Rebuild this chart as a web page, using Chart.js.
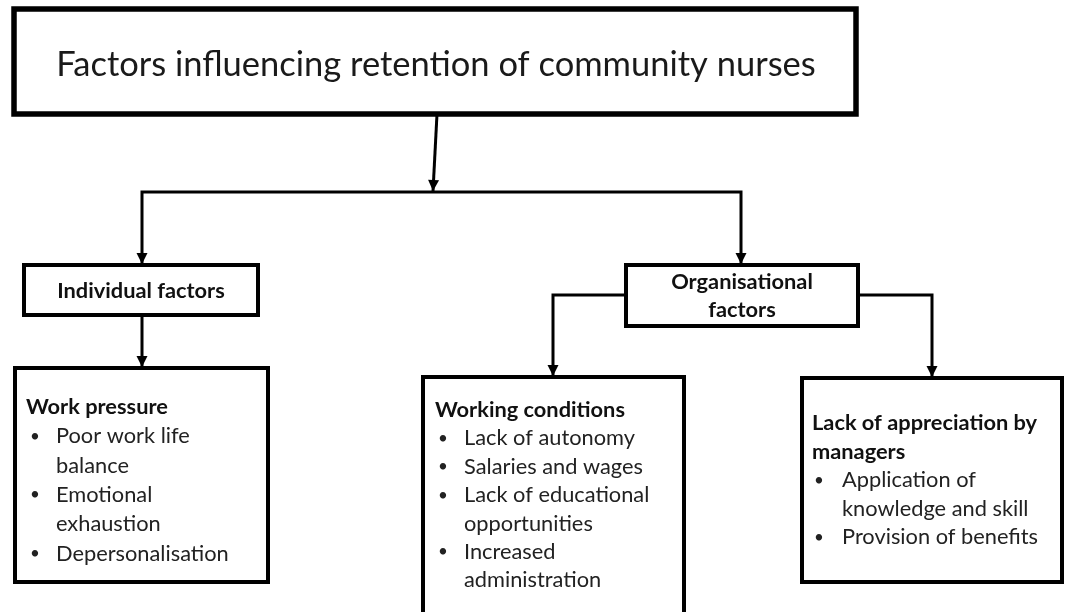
<!DOCTYPE html>
<html>
<head>
<meta charset="utf-8">
<script src="https://cdn.jsdelivr.net/npm/chart.js@4/dist/chart.umd.min.js"></script>
<style>
  body { margin: 0; background: #fff; }
  #wrap { width: 1069px; height: 612px; }
</style>
</head>
<body>
<div id="wrap"><canvas id="flowChart"></canvas></div>
<script>
// boxes of the diagram, in axis units (x: 0..1069, y: 0..612 from top)
const boxNames = ['root', 'individual', 'organisational', 'workPressure', 'workingConditions', 'appreciation'];
const boxLeft   = [14, 24, 626, 15, 423, 802];
const boxRight  = [856, 258, 858, 268, 684, 1062];
const boxTop    = [9, 265, 265, 368, 377, 378];
const boxBottom = [114, 315, 326, 582, 650, 582];

// centred titles
const titleText = [
  ['Factors influencing retention of community nurses'],
  ['Individual factors'],
  ['Organisational', 'factors']
];

// list boxes: heading lines and bullet items (each item may wrap)
const listHeadings = [
  ['Work pressure'],
  ['Working conditions'],
  ['Lack of appreciation by', 'managers']
];
const listItems = [
  [['Poor work life', 'balance'], ['Emotional', 'exhaustion'], ['Depersonalisation']],
  [['Lack of autonomy'], ['Salaries and wages'], ['Lack of educational', 'opportunities'], ['Increased', 'administration']],
  [['Application of', 'knowledge and skill'], ['Provision of benefits']]
];

// connectors: polylines ending in an arrow head
const linkX = [
  [437, 433],
  [433, 142, 142],
  [433, 741, 741],
  [142, 142],
  [626, 553, 553],
  [858, 932, 932]
];
const linkY = [
  [114, 191],
  [192, 192, 264],
  [192, 192, 264],
  [315, 367],
  [295, 295, 376],
  [295, 295, 377]
];

const FONT = 'Lato, "Open Sans", sans-serif';
const INK = '#1a1a1a';

const diagramPlugin = {
  id: 'diagram',
  afterDatasetsDraw(chart) {
    const ctx = chart.ctx;
    const xs = chart.scales.x;
    const ys = chart.scales.y;
    const px = v => xs.getPixelForValue(v);
    const py = v => ys.getPixelForValue(v);

    ctx.save();

    // arrow heads at the end of every link
    ctx.fillStyle = '#000';
    linkX.forEach((lx, i) => {
      const ly = linkY[i];
      const n = lx.length;
      const x1 = px(lx[n - 1]), y1 = py(ly[n - 1]);
      const x0 = px(lx[n - 2]), y0 = py(ly[n - 2]);
      const a = Math.atan2(y1 - y0, x1 - x0);
      const len = 11, half = 5.5;
      ctx.beginPath();
      ctx.moveTo(x1, y1);
      ctx.lineTo(x1 - len * Math.cos(a) + half * Math.sin(a), y1 - len * Math.sin(a) - half * Math.cos(a));
      ctx.lineTo(x1 - len * Math.cos(a) - half * Math.sin(a), y1 - len * Math.sin(a) + half * Math.cos(a));
      ctx.closePath();
      ctx.fill();
    });

    // boxes
    boxNames.forEach((name, i) => {
      const l = px(boxLeft[i]), r = px(boxRight[i]);
      const t = py(boxTop[i]), b = py(boxBottom[i]);
      ctx.lineWidth = name === 'root' ? 5.5 : 4;
      ctx.strokeStyle = '#000';
      ctx.fillStyle = '#fff';
      ctx.fillRect(l, t, r - l, b - t);
      ctx.strokeRect(l, t, r - l, b - t);
    });

    ctx.textBaseline = 'middle';

    // root title
    ctx.fillStyle = INK;
    ctx.textAlign = 'center';
    ctx.font = '34.5px ' + FONT;
    ctx.fillText(titleText[0][0], px(436), py(65));

    // second level titles
    ctx.font = 'bold 21.8px ' + FONT;
    ctx.fillStyle = '#111';
    ctx.fillText(titleText[1][0], px(141), py(291));
    ctx.fillText(titleText[2][0], px(742), py(282));
    ctx.fillText(titleText[2][1], px(742), py(310));

    // list boxes
    const headX = [26, 435, 812];
    const bulletX = [30, 438, 814];
    const itemX = [56, 464, 842];
    const firstY = [407, 410, 423];
    const step = [29.3, 28.4, 28.6];
    ctx.textAlign = 'left';
    listHeadings.forEach((heads, k) => {
      let y = firstY[k];
      ctx.font = 'bold 21.8px ' + FONT;
      ctx.fillStyle = '#111';
      heads.forEach(line => {
        ctx.fillText(line, px(headX[k]), py(y));
        y += step[k];
      });
      ctx.fillStyle = '#222';
      listItems[k].forEach(item => {
        ctx.font = '17px ' + FONT;
        ctx.fillText('\u2022', px(bulletX[k]), py(y));
        ctx.font = '21.8px ' + FONT;
        item.forEach(line => {
          ctx.fillText(line, px(itemX[k]), py(y));
          y += step[k];
        });
      });
    });

    ctx.restore();
  }
};

const datasets = linkX.map((lx, i) => ({
  data: lx.map((x, j) => ({ x: x, y: linkY[i][j] })),
  showLine: true,
  borderColor: '#000',
  borderWidth: 3,
  pointRadius: 0,
  fill: false,
  tension: 0
}));

new Chart(document.getElementById('flowChart'), {
  type: 'scatter',
  data: { datasets: datasets },
  options: {
    responsive: true,
    maintainAspectRatio: false,
    animation: false,
    layout: { padding: 0 },
    plugins: {
      legend: { display: false },
      tooltip: { enabled: false }
    },
    scales: {
      x: { type: 'linear', min: 0, max: 1069, display: false },
      y: { type: 'linear', min: 0, max: 612, reverse: true, display: false }
    }
  },
  plugins: [diagramPlugin]
});
</script>
</body>
</html>
